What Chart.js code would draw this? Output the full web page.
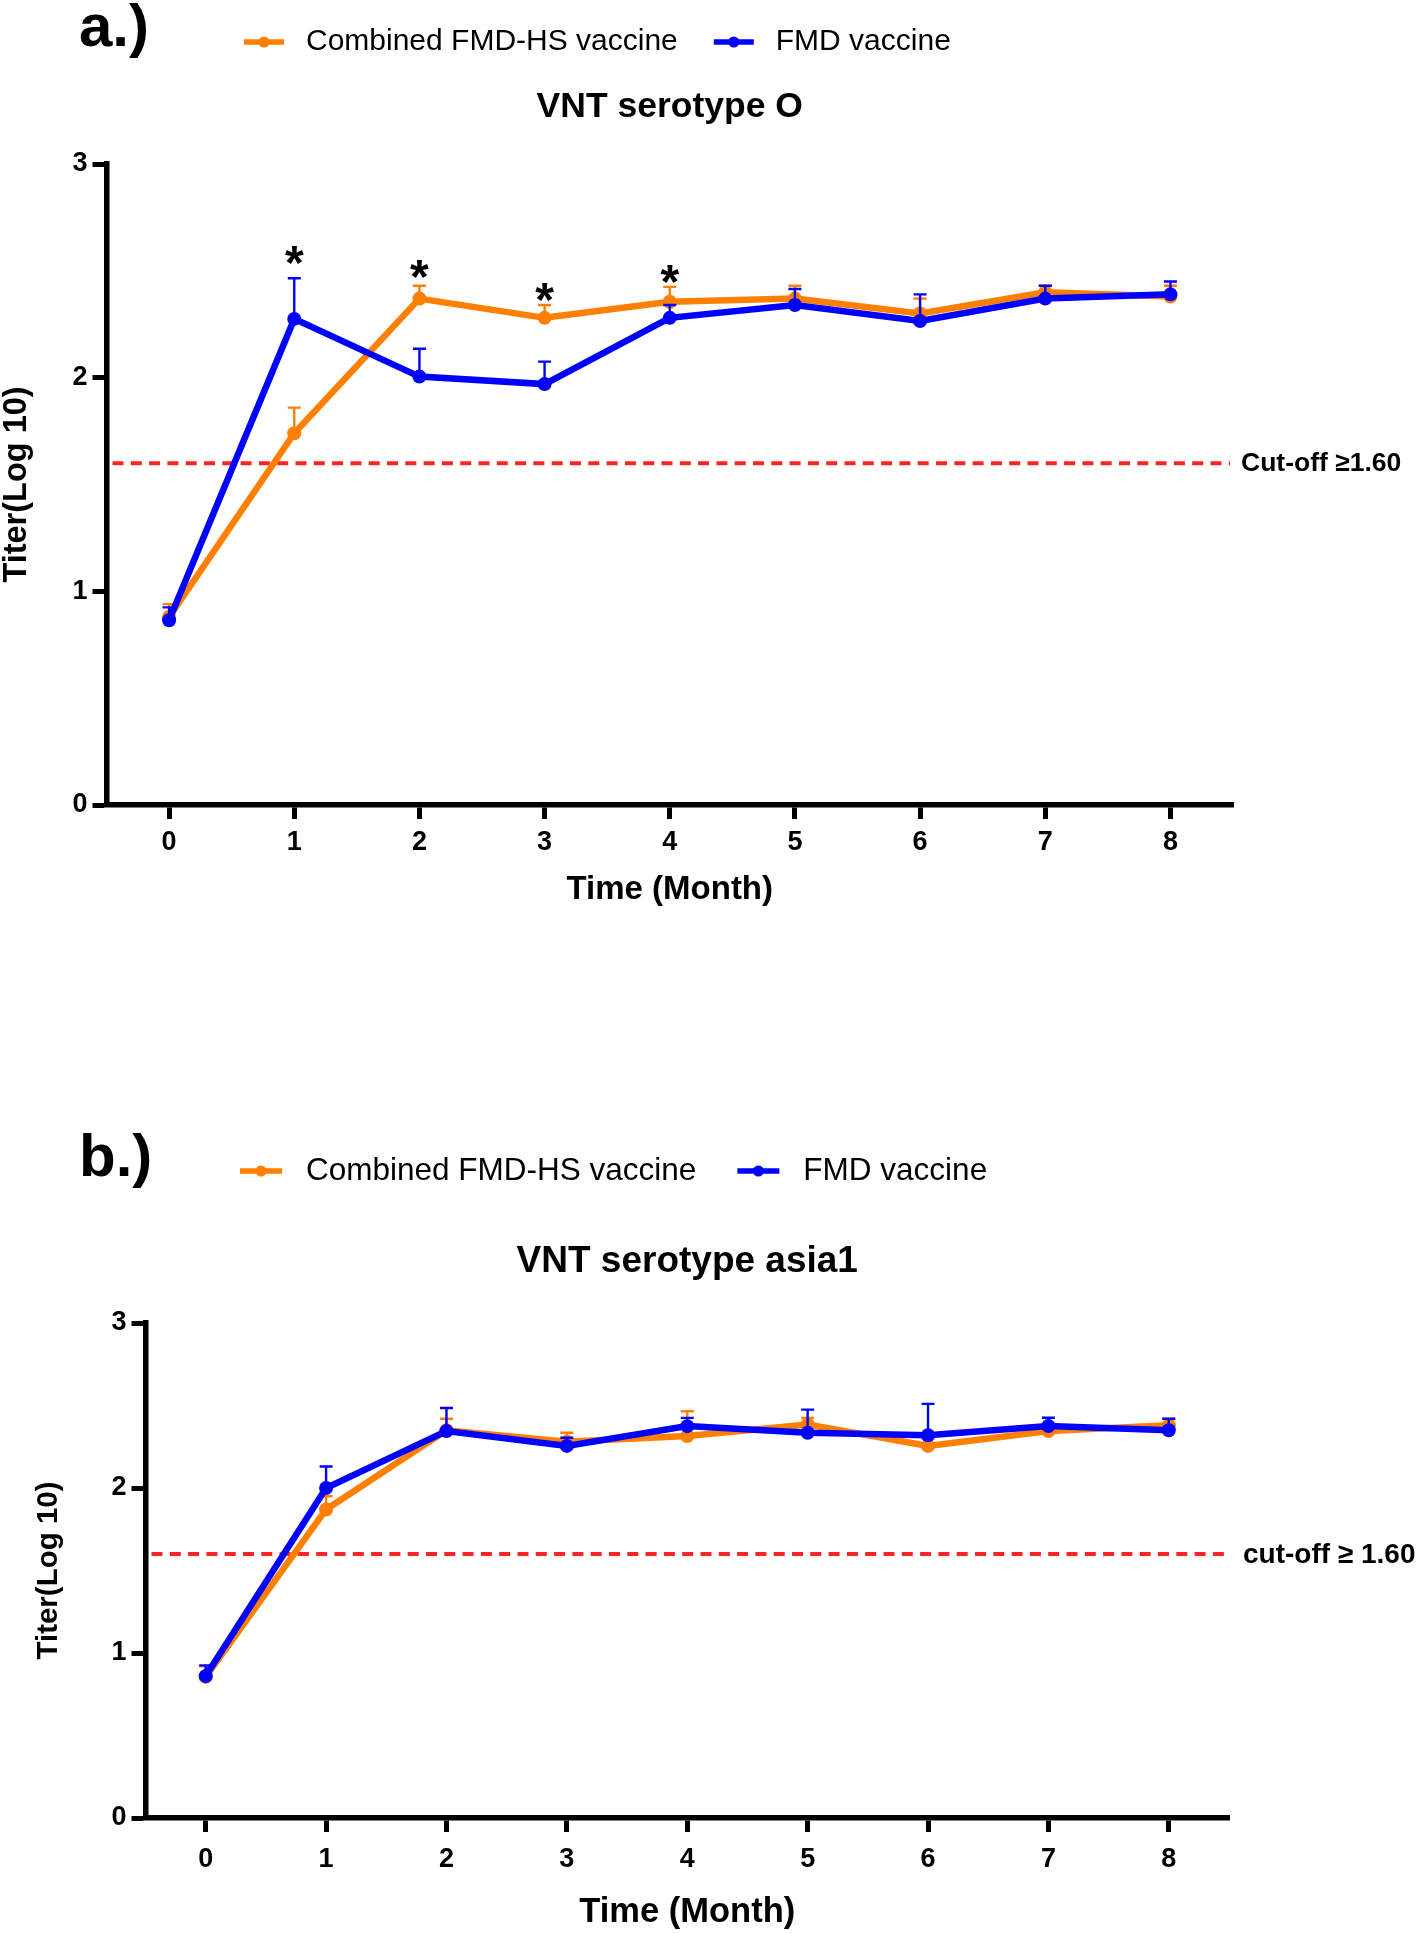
<!DOCTYPE html>
<html>
<head>
<meta charset="utf-8">
<title>VNT serotype O / asia1</title>
<script src="https://cdn.jsdelivr.net/npm/chart.js@4.4.1/dist/chart.umd.min.js"></script>
<style>
  body { margin: 0; background: #fff; }
  #wrap { position: relative; width: 1418px; height: 1933px; }
  canvas { position: absolute; left: 0; }
  #chartO { top: 0; }
  #chartAsia { top: 950px; }
</style>
</head>
<body>
<div id="wrap">
  <canvas id="chartO" width="1418" height="950"></canvas>
  <canvas id="chartAsia" width="1418" height="983"></canvas>
</div>
<script>
const months = [0, 1, 2, 3, 4, 5, 6, 7, 8];
const yTicks = [0, 1, 2, 3];
const seriesNames = ["Combined FMD-HS vaccine", "FMD vaccine"];
const cutOff = 1.6;

// a.) serotype O: means and upper error (SD)
const oCombined = [0.88, 1.74, 2.37, 2.28, 2.355, 2.37, 2.30, 2.40, 2.38];
const oCombinedErr = [0.06, 0.12, 0.06, 0.06, 0.07, 0.06, 0.07, 0.03, 0.05];
const oFmd = [0.865, 2.275, 2.005, 1.97, 2.28, 2.34, 2.265, 2.37, 2.39];
const oFmdErr = [0.06, 0.19, 0.13, 0.105, 0.06, 0.075, 0.125, 0.06, 0.06];
// significance marks (month, height in log10 units)
const oStarMonths = [1, 2, 3, 4];
const oStarLevels = [2.574, 2.51, 2.40, 2.486];

// b.) serotype asia1
const asiaCombined = [0.855, 1.87, 2.35, 2.28, 2.315, 2.385, 2.255, 2.345, 2.38];
const asiaCombinedErr = [0.065, 0.08, 0.07, 0.055, 0.15, 0.04, 0.045, 0.045, 0.04];
const asiaFmd = [0.86, 2.0, 2.345, 2.255, 2.375, 2.335, 2.32, 2.376, 2.35];
const asiaFmdErr = [0.065, 0.13, 0.14, 0.05, 0.05, 0.14, 0.19, 0.05, 0.07];

const FONT = "'Liberation Sans', Arial, Helvetica, sans-serif";
const ORANGE = "#ff7f00";
const BLUE = "#0000ff";

function buildDatasets(combined, combinedErr, fmd, fmdErr) {
  const mk = (label, vals, errs, color, order) => ({
    label: label,
    data: months.map((m, i) => ({ x: m, y: vals[i] })),
    errors: errs,
    borderColor: color,
    backgroundColor: color,
    pointBackgroundColor: color,
    borderWidth: 6.5,
    pointRadius: 7,
    pointHoverRadius: 7,
    pointBorderWidth: 0,
    tension: 0,
    fill: false,
    order: order
  });
  // FMD vaccine drawn on top
  return [mk(seriesNames[0], combined, combinedErr, ORANGE, 1), mk(seriesNames[1], fmd, fmdErr, BLUE, 0)];
}

// error bars, cut-off line, labels, legend and title
const decor = {
  id: "decor",
  beforeDatasetsDraw(chart, args, opts) {
    const { ctx, chartArea } = chart;
    const y = chart.scales.y.getPixelForValue(opts.cutOff);
    ctx.save();
    ctx.strokeStyle = "#ff2424";
    ctx.lineWidth = 4;
    ctx.setLineDash([11, 7.3]);
    ctx.beginPath();
    ctx.moveTo(chartArea.left + 6, y);
    ctx.lineTo(chartArea.right - 3, y);
    ctx.stroke();
    ctx.restore();
  },
  afterDatasetDraw(chart, args) {
    const ds = chart.data.datasets[args.index];
    if (!ds.errors) return;
    const { ctx } = chart;
    const yScale = chart.scales.y;
    ctx.save();
    ctx.strokeStyle = ds.borderColor;
    ctx.lineWidth = 2.4;
    args.meta.data.forEach((pt, i) => {
      const top = yScale.getPixelForValue(ds.data[i].y + ds.errors[i]);
      ctx.beginPath();
      ctx.moveTo(pt.x, pt.y);
      ctx.lineTo(pt.x, top);
      ctx.moveTo(pt.x - 6.5, top);
      ctx.lineTo(pt.x + 6.5, top);
      ctx.stroke();
    });
    ctx.restore();
  },
  afterDraw(chart, args, opts) {
    const { ctx, chartArea } = chart;
    const xs = chart.scales.x, ys = chart.scales.y;
    ctx.save();
    ctx.fillStyle = "#000";

    // panel letter
    ctx.font = "bold 60px " + FONT;
    ctx.textAlign = "left";
    ctx.textBaseline = "middle";
    ctx.fillText(opts.panel, 79, opts.panelY);

    // legend
    ctx.font = opts.legendSize + "px " + FONT;
    let lx = opts.legendX;
    chart.data.datasets.forEach((ds) => {
      ctx.strokeStyle = ds.borderColor;
      ctx.fillStyle = ds.borderColor;
      ctx.lineWidth = 5.5;
      ctx.beginPath();
      ctx.moveTo(lx, opts.legendY);
      ctx.lineTo(lx + opts.markerW, opts.legendY);
      ctx.stroke();
      ctx.beginPath();
      ctx.arc(lx + opts.markerW / 2, opts.legendY, 5.5, 0, Math.PI * 2);
      ctx.fill();
      ctx.fillStyle = "#000";
      const tx = lx + opts.markerW + opts.textGap;
      ctx.fillText(ds.label, tx, opts.legendY);
      lx = tx + ctx.measureText(ds.label).width + opts.itemGap;
    });

    // chart title
    ctx.font = "bold " + opts.titleSize + "px " + FONT;
    ctx.textAlign = "center";
    ctx.fillText(opts.title, (chartArea.left + chartArea.right) / 2, opts.titleY);

    // cut-off label
    ctx.font = "bold " + opts.cutSize + "px " + FONT;
    ctx.textAlign = "left";
    ctx.fillText(opts.cutLabel, chartArea.right + opts.cutDx, ys.getPixelForValue(opts.cutOff) + 1);

    // significance asterisks
    if (opts.starMonths) {
      ctx.font = "bold 48px " + FONT;
      ctx.textAlign = "center";
      ctx.textBaseline = "alphabetic";
      const m = ctx.measureText("*");
      const shift = (m.actualBoundingBoxAscent - m.actualBoundingBoxDescent) / 2;
      opts.starMonths.forEach((mo, i) => {
        ctx.fillText("*", xs.getPixelForValue(mo), ys.getPixelForValue(opts.starLevels[i]) + shift);
      });
    }
    ctx.restore();
  }
};

function makeScales(s) {
  return {
    x: {
      type: "linear",
      min: -0.5,
      max: 8.5,
      afterBuildTicks: (sc) => { sc.ticks = months.map((v) => ({ value: v })); },
      afterFit: (sc) => { sc.height = s.xHeight; },
      border: { color: "#000", width: 5.5 },
      grid: { drawOnChartArea: false, drawTicks: true, tickLength: 14, tickWidth: 5, tickColor: "#000" },
      ticks: {
        color: "#000", padding: s.xTickPad, maxRotation: 0, autoSkip: false,
        font: { family: FONT, size: s.tickSize, weight: "bold", lineHeight: 1.2 }
      },
      title: {
        display: true, text: "Time (Month)", color: "#000",
        font: { family: FONT, size: s.xTitleSize, weight: "bold", lineHeight: 1 },
        padding: { top: 0, bottom: s.xTitlePad }
      }
    },
    y: {
      min: 0,
      max: 3,
      afterBuildTicks: (sc) => { sc.ticks = yTicks.map((v) => ({ value: v })); },
      afterFit: (sc) => { sc.width = s.yWidth; },
      border: { color: "#000", width: 5.5 },
      grid: { drawOnChartArea: false, drawTicks: true, tickLength: 14, tickWidth: 5, tickColor: "#000" },
      ticks: {
        color: "#000", padding: s.yTickPad,
        font: { family: FONT, size: s.tickSize, weight: "bold", lineHeight: 1.2 }
      },
      title: {
        display: true, text: "Titer(Log 10)", color: "#000",
        font: { family: FONT, size: s.yTitleSize, weight: "bold", lineHeight: 1 },
        padding: { top: s.yTitlePad, bottom: 0 }
      }
    }
  };
}

function makeChart(id, datasets, s, decorOpts) {
  return new Chart(document.getElementById(id), {
    type: "line",
    data: { datasets: datasets },
    options: {
      responsive: false,
      animation: false,
      events: [],
      layout: { padding: { top: s.top, right: s.right, left: 0, bottom: 0 } },
      plugins: {
        legend: { display: false },
        tooltip: { enabled: false },
        decor: decorOpts
      },
      scales: makeScales(s)
    },
    plugins: [decor]
  });
}

makeChart(
  "chartO",
  buildDatasets(oCombined, oCombinedErr, oFmd, oFmdErr),
  { top: 164, right: 185, xHeight: 145, yWidth: 106.5, tickSize: 27, xTickPad: 7, yTickPad: 5,
    xTitleSize: 33, xTitlePad: 43.5, yTitleSize: 32.5, yTitlePad: 1 },
  { panel: "a.)", panelY: 29, legendX: 244, legendY: 42, legendSize: 30, markerW: 40, textGap: 22, itemGap: 36,
    title: "VNT serotype O", titleY: 107, titleSize: 35.5,
    cutOff: cutOff, cutLabel: "Cut-off \u22651.60", cutSize: 26.5, cutDx: 8,
    starMonths: oStarMonths, starLevels: oStarLevels }
);

makeChart(
  "chartAsia",
  buildDatasets(asiaCombined, asiaCombinedErr, asiaFmd, asiaFmdErr),
  { top: 373, right: 189, xHeight: 115, yWidth: 145.5, tickSize: 27, xTickPad: 11, yTickPad: 5,
    xTitleSize: 34.5, xTitlePad: 3.5, yTitleSize: 29.5, yTitlePad: 34 },
  { panel: "b.)", panelY: 209, legendX: 240, legendY: 221, legendSize: 31.5, markerW: 42, textGap: 24, itemGap: 41,
    title: "VNT serotype asia1", titleY: 312, titleSize: 37,
    cutOff: cutOff, cutLabel: "cut-off \u2265 1.60", cutSize: 28, cutDx: 14 }
);
</script>
</body>
</html>
